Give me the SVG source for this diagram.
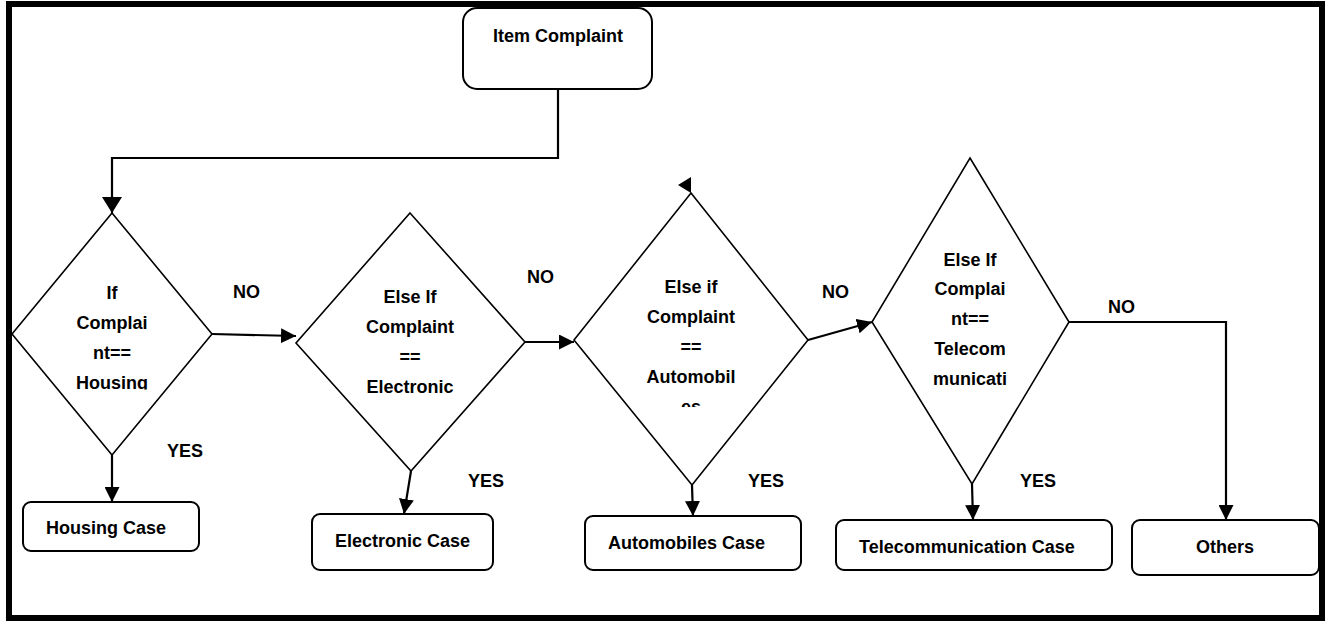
<svg xmlns="http://www.w3.org/2000/svg" width="1330" height="621" viewBox="0 0 1330 621">
  <style>
    .t { font-family: "Liberation Sans", Arial, sans-serif; font-weight: bold; font-size: 18px; fill: #000; }
    .m { text-anchor: middle; }
    .box { fill: #fff; stroke: #000; stroke-width: 2; }
    .dia { fill: #fff; stroke: #000; stroke-width: 1.6; }
    .con { fill: none; stroke: #000; stroke-width: 2.2; }
  </style>
  <defs>
    <marker id="arr" markerUnits="userSpaceOnUse" markerWidth="15" markerHeight="15" refX="15" refY="7.5" orient="auto">
      <path d="M0,0 L15,7.5 L0,15 Z" fill="#000"/>
    </marker>
    <marker id="arrL" markerUnits="userSpaceOnUse" markerWidth="16" markerHeight="20" refX="16" refY="10" orient="auto">
      <path d="M0,0 L16,10 L0,20 Z" fill="#000"/>
    </marker>
    <clipPath id="clip1"><rect x="0" y="200" width="300" height="189.5"/></clipPath>
    <clipPath id="clip3"><rect x="560" y="180" width="260" height="227"/></clipPath>
  </defs>
  <rect width="1330" height="621" fill="#fff"/>
  <rect x="9" y="4" width="1313" height="614" fill="none" stroke="#000" stroke-width="6"/>

  <g id="connectors">
    <polyline class="con" points="558,89 558,158 112,158 112,213" marker-end="url(#arrL)"/>
    <line class="con" x1="212" y1="334" x2="296" y2="336" marker-end="url(#arr)"/>
    <line class="con" x1="525" y1="342" x2="574" y2="342" marker-end="url(#arr)"/>
    <line class="con" x1="808" y1="340" x2="872" y2="322" marker-end="url(#arr)"/>
    <polyline class="con" points="1069,322 1226,322 1226,520" marker-end="url(#arr)"/>
    <line class="con" x1="112" y1="455" x2="112" y2="502" marker-end="url(#arr)"/>
    <line class="con" x1="411" y1="471" x2="404" y2="514" marker-end="url(#arr)"/>
    <line class="con" x1="692" y1="485" x2="693" y2="516" marker-end="url(#arr)"/>
    <line class="con" x1="972" y1="484" x2="973" y2="520" marker-end="url(#arr)"/>
    <polygon points="691,177 691,193 678,185" fill="#000"/>
    <text class="t" x="233" y="298">NO</text>
    <text class="t" x="527" y="283">NO</text>
    <text class="t" x="822" y="298">NO</text>
    <text class="t" x="1108" y="313">NO</text>
    <text class="t" x="167" y="457">YES</text>
    <text class="t" x="468" y="487">YES</text>
    <text class="t" x="748" y="487">YES</text>
    <text class="t" x="1020" y="487">YES</text>
  </g>

  <g id="item-complaint">
    <rect class="box" x="463" y="8" width="189" height="81" rx="14"/>
    <text class="t m" x="558" y="42">Item Complaint</text>
  </g>

  <g id="decision-housing">
    <polygon class="dia" points="112,213 212,334 112,455 12,334"/>
    <g clip-path="url(#clip1)">
      <text class="t m" x="112" y="299">If</text>
      <text class="t m" x="112" y="329">Complai</text>
      <text class="t m" x="112" y="359">nt==</text>
      <text class="t m" x="112" y="389">Housing</text>
    </g>
  </g>

  <g id="decision-electronic">
    <polygon class="dia" points="410,213 525,342 411,471 296,343"/>
    <text class="t m" x="410" y="303">Else If</text>
    <text class="t m" x="410" y="333">Complaint</text>
    <text class="t m" x="410" y="363">==</text>
    <text class="t m" x="410" y="393">Electronic</text>
  </g>

  <g id="decision-automobiles">
    <polygon class="dia" points="691,193 808,340 692,485 574,340"/>
    <g clip-path="url(#clip3)">
      <text class="t m" x="691" y="293">Else if</text>
      <text class="t m" x="691" y="323">Complaint</text>
      <text class="t m" x="691" y="353">==</text>
      <text class="t m" x="691" y="383">Automobil</text>
      <text class="t m" x="691" y="413">es</text>
    </g>
  </g>

  <g id="decision-telecom">
    <polygon class="dia" points="970,158 1069,322 972,484 872,322"/>
    <text class="t m" x="970" y="266">Else If</text>
    <text class="t m" x="970" y="295">Complai</text>
    <text class="t m" x="970" y="325">nt==</text>
    <text class="t m" x="970" y="355">Telecom</text>
    <text class="t m" x="970" y="385">municati</text>
  </g>

  <g id="housing-case">
    <rect class="box" x="23" y="502" width="176" height="49" rx="8"/>
    <text class="t" x="46" y="534">Housing Case</text>
  </g>
  <g id="electronic-case">
    <rect class="box" x="312" y="514" width="181" height="56" rx="8"/>
    <text class="t" x="335" y="547">Electronic Case</text>
  </g>
  <g id="automobiles-case">
    <rect class="box" x="585" y="516" width="216" height="54" rx="8"/>
    <text class="t" x="608" y="549">Automobiles Case</text>
  </g>
  <g id="telecom-case">
    <rect class="box" x="836" y="520" width="276" height="50" rx="8"/>
    <text class="t" x="859" y="553">Telecommunication Case</text>
  </g>
  <g id="others">
    <rect class="box" x="1132" y="520" width="187" height="55" rx="8"/>
    <text class="t m" x="1225" y="553">Others</text>
  </g>
</svg>
